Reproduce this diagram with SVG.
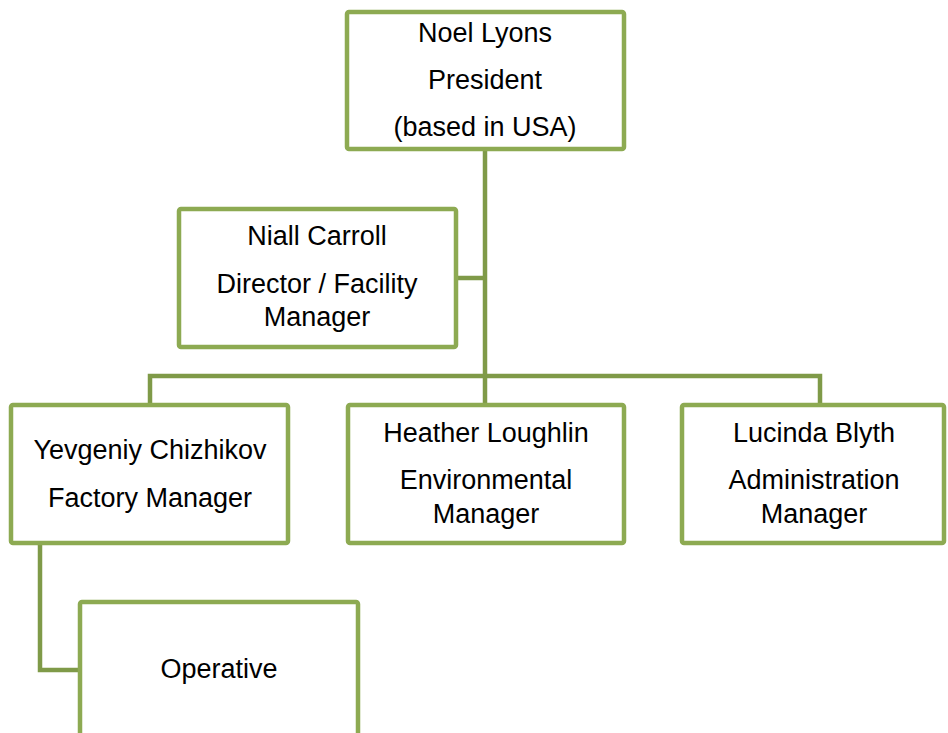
<svg xmlns="http://www.w3.org/2000/svg" width="948" height="733" viewBox="0 0 948 733">
<style>
.box{fill:#fff;stroke:#8DAA52;stroke-width:4.5;}
.conn{fill:none;stroke:#7F9A48;stroke-width:4.5;}
text{font-family:"Liberation Sans",Arial,sans-serif;font-size:27px;fill:#000;text-anchor:middle;}
</style>
<rect width="948" height="733" fill="#fff"/>
<g id="connectors">
<path class="conn" d="M485,150 V376"/>
<path class="conn" d="M458,278 H485"/>
<path class="conn" d="M150,403 V376 H820 V404"/>
<path class="conn" d="M485,376 V404"/>
<path class="conn" d="M40,545 V670 H80"/>
</g>
<g id="president">
<rect class="box" x="347" y="12" width="277" height="137" rx="2"/>
<text x="485" y="42">Noel Lyons</text>
<text x="485" y="89">President</text>
<text x="485" y="136">(based in USA)</text>
</g>
<g id="director">
<rect class="box" x="179" y="209" width="277" height="138" rx="2"/>
<text x="317" y="245">Niall Carroll</text>
<text x="317" y="293">Director / Facility</text>
<text x="317" y="326">Manager</text>
</g>
<g id="factory">
<rect class="box" x="11" y="405" width="277" height="138" rx="2"/>
<text x="150" y="459">Yevgeniy Chizhikov</text>
<text x="150" y="507">Factory Manager</text>
</g>
<g id="environmental">
<rect class="box" x="348" y="405" width="276" height="138" rx="2"/>
<text x="486" y="442">Heather Loughlin</text>
<text x="486" y="489">Environmental</text>
<text x="486" y="523">Manager</text>
</g>
<g id="administration">
<rect class="box" x="682" y="405" width="262" height="138" rx="2"/>
<text x="814" y="442">Lucinda Blyth</text>
<text x="814" y="489">Administration</text>
<text x="814" y="523">Manager</text>
</g>
<g id="operative">
<rect class="box" x="80" y="602" width="278" height="150" rx="2"/>
<text x="219" y="678">Operative</text>
</g>
</svg>
